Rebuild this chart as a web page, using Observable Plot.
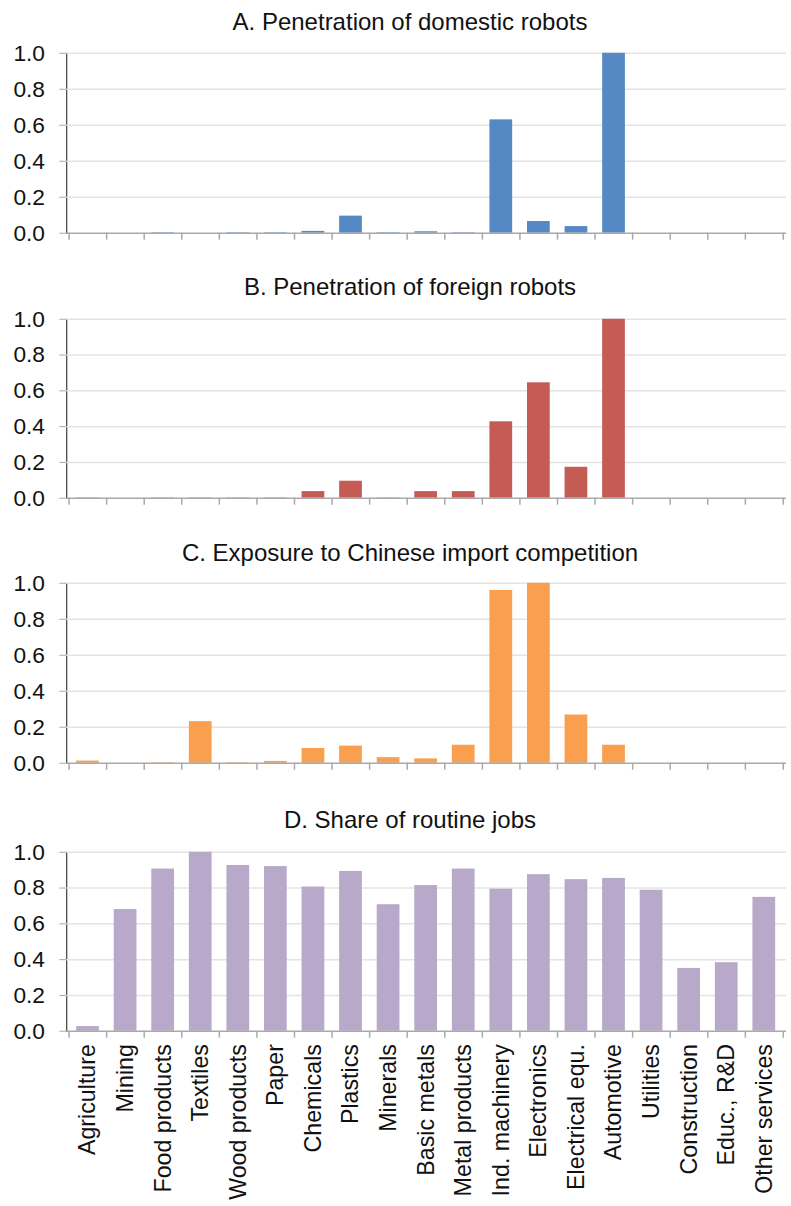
<!DOCTYPE html>
<html><head><meta charset="utf-8">
<script src="https://cdn.jsdelivr.net/npm/d3@7"></script>
<script src="https://cdn.jsdelivr.net/npm/@observablehq/plot@0.6"></script>
<style>
html,body{margin:0;padding:0;background:#fff;overflow:hidden;}
#chart{position:relative;width:791px;height:1206px;overflow:hidden;font-family:"Liberation Sans",Arial,Helvetica,sans-serif;}
.title{position:absolute;left:0;width:820px;text-align:center;font-size:24px;color:#111;line-height:30px;white-space:nowrap;}
.panel{position:absolute;left:0;}
.panel svg{overflow:visible;}
g[aria-label^="y-axis"] line, g[aria-label^="y-axis"] path{stroke:#a9a9a9;}
g[aria-label^="x-axis"] text{font-size:23.5px;}
</style></head><body><div id="chart"></div>
<script>
const categories = ["Agriculture","Mining","Food products","Textiles","Wood products","Paper","Chemicals","Plastics","Minerals","Basic metals","Metal products","Ind. machinery","Electronics","Electrical equ.","Automotive","Utilities","Construction","Educ., R&D","Other services"];
const domesticRobots = [0, 0, 0.003, 0, 0.003, 0.003, 0.01, 0.095, 0.003, 0.008, 0.003, 0.63, 0.065, 0.037, 1.0, 0, 0, 0, 0];
const foreignRobots  = [0.002, 0, 0.002, 0.002, 0.002, 0.002, 0.037, 0.095, 0.002, 0.037, 0.037, 0.427, 0.645, 0.173, 1.0, 0, 0, 0, 0];
const chineseImports = [0.012, 0, 0.003, 0.231, 0.003, 0.01, 0.082, 0.095, 0.031, 0.024, 0.10, 0.96, 1.0, 0.268, 0.10, 0, 0, 0, 0];
const routineJobs    = [0.026, 0.68, 0.906, 1.0, 0.926, 0.92, 0.806, 0.893, 0.707, 0.814, 0.906, 0.794, 0.875, 0.847, 0.854, 0.788, 0.351, 0.383, 0.748];
const yTicks = [0, 0.2, 0.4, 0.6, 0.8, 1.0];
const titles = ["A. Penetration of domestic robots","B. Penetration of foreign robots","C. Exposure to Chinese import competition","D. Share of routine jobs"];
const colors = ["#5589c4","#c55b55","#f99f4e","#b8a9cb"];
const series = [domesticRobots, foreignRobots, chineseImports, routineJobs];

// layout
const W = 800, ML = 67, MR = 5, H = 1206;
const step = (W - ML - MR) / categories.length;
const layout = [
  {titleY: 22, y1: 53, y0: 235},
  {titleY: 287, y1: 319, y0: 500},
  {titleY: 553, y1: 583, y0: 765},
  {titleY: 820, y1: 852, y0: 1033}
];
const chart = document.getElementById("chart");
const axisGray = "#a9a9a9";

series.forEach((values, k) => {
  const L = layout[k];
  const last = k === series.length - 1;
  const data = categories.map((c, i) => ({category: c, value: values[i]}));
  const mt = 20, mb = last ? (H - L.y0) : 20;
  const ph = L.y0 - L.y1;
  const drop = -7 / ph;
  const svg = Plot.plot({
    width: W, height: mt + ph + mb,
    marginLeft: ML, marginRight: MR, marginTop: mt, marginBottom: mb,
    style: {fontFamily: '"Liberation Sans", Arial, Helvetica, sans-serif', fontSize: "23px", color: "#111", background: "transparent", overflow: "visible"},
    x: {domain: categories, paddingInner: 0.39, paddingOuter: 0.195, axis: last ? "bottom" : null, tickSize: 0, tickRotate: -90, tickPadding: 13, label: null},
    y: {domain: [0, 1], ticks: yTicks, tickFormat: d3.format(".1f"), tickSize: 7, tickPadding: 15, line: true, label: null},
    marks: [
      Plot.ruleY(yTicks.filter(d => d > 0), {stroke: "#e4e4e4", strokeWidth: 1.5}),
      Plot.barY(data, {x: "category", y: "value", fill: colors[k]}),
      Plot.ruleY([0], {stroke: axisGray, strokeWidth: 1.5}),
      Plot.ruleX(categories, {x: d => d, y1: 0, y2: drop, stroke: axisGray, strokeWidth: 1.5, dx: -step / 2}),
      Plot.ruleX(categories.slice(-1), {x: d => d, y1: 0, y2: drop, stroke: axisGray, strokeWidth: 1.5, dx: step / 2})
    ]
  });
  const wrap = document.createElement("div");
  wrap.className = "panel";
  wrap.style.top = (L.y1 - mt) + "px";
  wrap.appendChild(svg);
  chart.appendChild(wrap);
  const t = document.createElement("div");
  t.className = "title";
  t.textContent = titles[k];
  t.style.top = (L.titleY - 15) + "px";
  chart.appendChild(t);
});
</script>
</body></html>
